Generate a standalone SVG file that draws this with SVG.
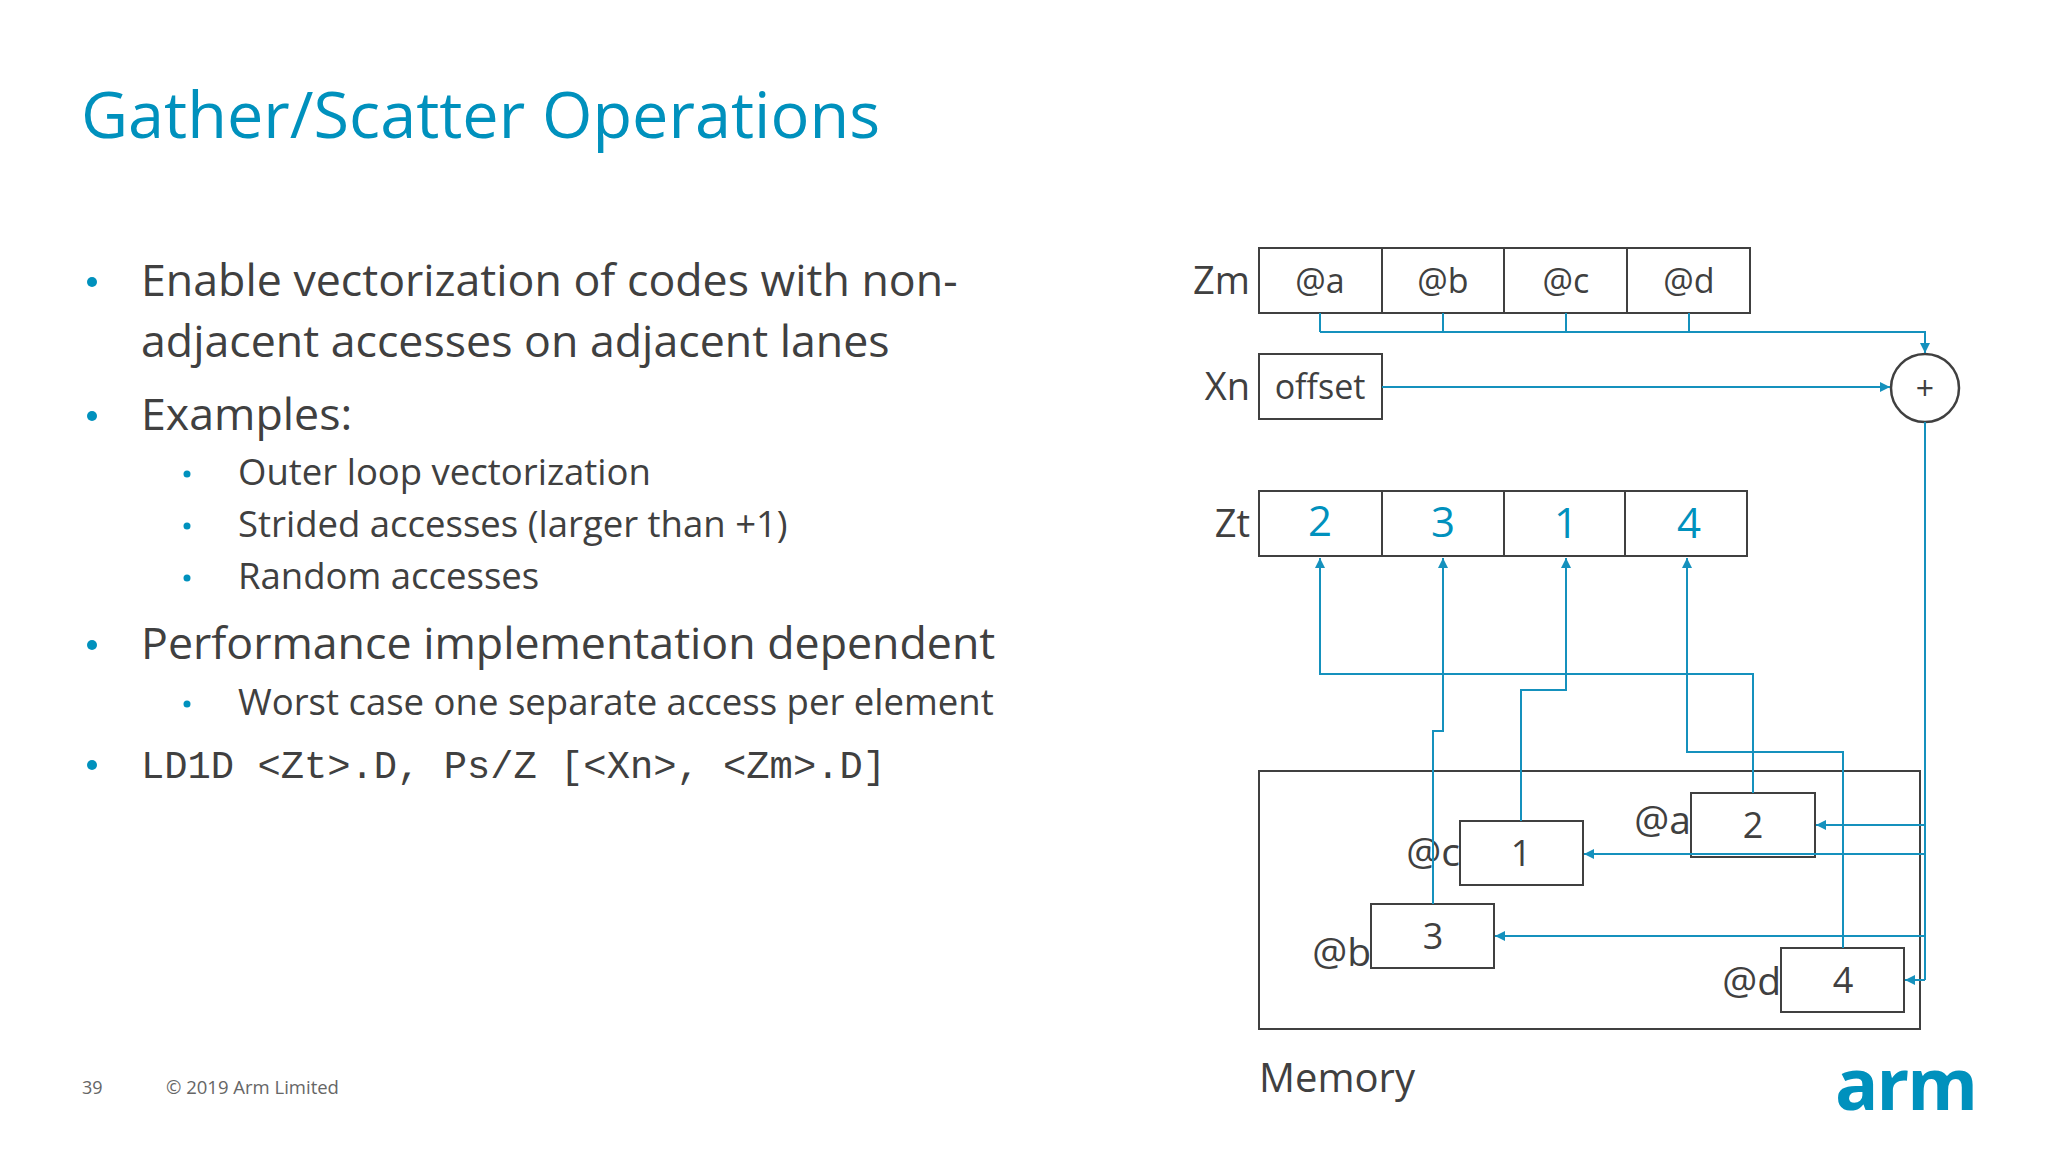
<svg xmlns="http://www.w3.org/2000/svg" width="2048" height="1152" viewBox="0 0 2048 1152">
<defs>
<marker id="ah" viewBox="0 0 10 10" refX="10" refY="5" markerWidth="5" markerHeight="5" orient="auto"><path d="M0,0 L10,5 L0,10 z" fill="#1591bd"/></marker>
<style>
text{font-family:"Open Sans","Noto Sans",sans-serif;fill:#404040}
.b{font-size:44.7px}.s{font-size:36.5px}.dot{fill:#0091bd}
.box{fill:none;stroke:#404040;stroke-width:2}
.c{stroke:#1591bd;stroke-width:2;fill:none}
.zm{font-size:34px;text-anchor:middle}
.zt{font-size:42px;text-anchor:middle;fill:#0091bd}
.m{font-size:36px;text-anchor:middle}
.lab{font-size:39px;text-anchor:end}
</style>
</defs>
<rect width="2048" height="1152" fill="#fff"/>
<text x="81" y="138" style="font-size:64.8px;fill:#0091bd">Gather/Scatter Operations</text>
<g id="bullets">
<circle class="dot" cx="92" cy="282" r="5"/>
<text class="b" x="141" y="296">Enable vectorization of codes with non-</text>
<text class="b" x="141" y="357">adjacent accesses on adjacent lanes</text>
<circle class="dot" cx="92" cy="416" r="5"/>
<text class="b" x="141" y="430">Examples:</text>
<circle class="dot" cx="187" cy="474" r="3.5"/>
<text class="s" x="238" y="485">Outer loop vectorization</text>
<circle class="dot" cx="187" cy="526" r="3.5"/>
<text class="s" x="238" y="537">Strided accesses (larger than +1)</text>
<circle class="dot" cx="187" cy="578" r="3.5"/>
<text class="s" x="238" y="589">Random accesses</text>
<circle class="dot" cx="92" cy="645" r="5"/>
<text class="b" x="141" y="659">Performance implementation dependent</text>
<circle class="dot" cx="187" cy="704" r="3.5"/>
<text class="s" x="238" y="715">Worst case one separate access per element</text>
<circle class="dot" cx="92" cy="765" r="5"/>
<text x="141" y="778" style="font-family:'Liberation Mono',monospace;font-size:38.8px">LD1D &lt;Zt&gt;.D, Ps/Z [&lt;Xn&gt;, &lt;Zm&gt;.D]</text>
</g>
<text x="82" y="1094" style="font-size:18px;fill:#666">39</text>
<text x="166" y="1094" style="font-size:18.5px;fill:#666">© 2019 Arm Limited</text>
<text x="1835" y="1110" style="font-family:'Open Sans',sans-serif;font-weight:bold;font-size:72px;fill:#0091bd;letter-spacing:-2px">arm</text>

<g id="Zm">
<text x="1250" y="294" style="font-size:38px;text-anchor:end">Zm</text>
<rect class="box" x="1259" y="248" width="491" height="65"/>
<line class="box" x1="1382" y1="248" x2="1382" y2="313"/><line class="box" x1="1504" y1="248" x2="1504" y2="313"/><line class="box" x1="1627" y1="248" x2="1627" y2="313"/>
<text class="zm" x="1320" y="293">@a</text><text class="zm" x="1443" y="293">@b</text><text class="zm" x="1566" y="293">@c</text><text class="zm" x="1689" y="293">@d</text>
</g>
<g id="Xn">
<text x="1250" y="400" style="font-size:38px;text-anchor:end">Xn</text>
<rect class="box" x="1259" y="354" width="123" height="65"/>
<text class="zm" x="1320" y="399">offset</text>
</g>
<g id="Zt">
<text x="1250" y="537" style="font-size:38px;text-anchor:end">Zt</text>
<rect class="box" x="1259" y="491" width="488" height="65"/>
<line class="box" x1="1382" y1="491" x2="1382" y2="556"/><line class="box" x1="1504" y1="491" x2="1504" y2="556"/><line class="box" x1="1625" y1="491" x2="1625" y2="556"/>
<text class="zt" x="1320" y="536">2</text><text class="zt" x="1443" y="537">3</text><text class="zt" x="1566" y="538">1</text><text class="zt" x="1689" y="538">4</text>
</g>
<g id="plus">
<circle cx="1925" cy="388" r="34" fill="#fff" stroke="#404040" stroke-width="2.5"/>
<text x="1925" y="400" style="font-size:32px;text-anchor:middle">+</text>
</g>
<g id="memory">
<rect class="box" x="1259" y="771" width="661" height="258"/>
<text x="1259" y="1092" style="font-size:40px">Memory</text>
</g>
<g id="mem-a"><rect class="box" x="1691" y="793" width="124" height="64"/><text class="m" x="1753" y="838">2</text><text class="lab" x="1691" y="834">@a</text></g>
<g id="mem-c"><rect class="box" x="1460" y="821" width="123" height="64"/><text class="m" x="1521" y="866">1</text><text class="lab" x="1460" y="866">@c</text></g>
<g id="mem-b"><rect class="box" x="1371" y="904" width="123" height="64"/><text class="m" x="1433" y="949">3</text><text class="lab" x="1371" y="966">@b</text></g>
<g id="mem-d"><rect class="box" x="1781" y="948" width="123" height="64"/><text class="m" x="1843" y="993">4</text><text class="lab" x="1781" y="995">@d</text></g>
<g id="connectors">
<path class="c" d="M1320,313V332M1443,313V332M1566,313V332M1689,313V332M1320,332H1925V353" marker-end="url(#ah)"/>
<path class="c" d="M1382,387H1890" marker-end="url(#ah)"/>
<path class="c" d="M1925,422V980"/>
<path class="c" d="M1925,825H1816" marker-end="url(#ah)"/>
<path class="c" d="M1925,854H1584" marker-end="url(#ah)"/>
<path class="c" d="M1925,936H1495" marker-end="url(#ah)"/>
<path class="c" d="M1925,980H1905" marker-end="url(#ah)"/>
<path class="c" d="M1753,793V674H1320V558" marker-end="url(#ah)"/>
<path class="c" d="M1433,904V731H1443V558" marker-end="url(#ah)"/>
<path class="c" d="M1521,821V690H1566V558" marker-end="url(#ah)"/>
<path class="c" d="M1843,948V752H1687V558" marker-end="url(#ah)"/>
</g>
</svg>
